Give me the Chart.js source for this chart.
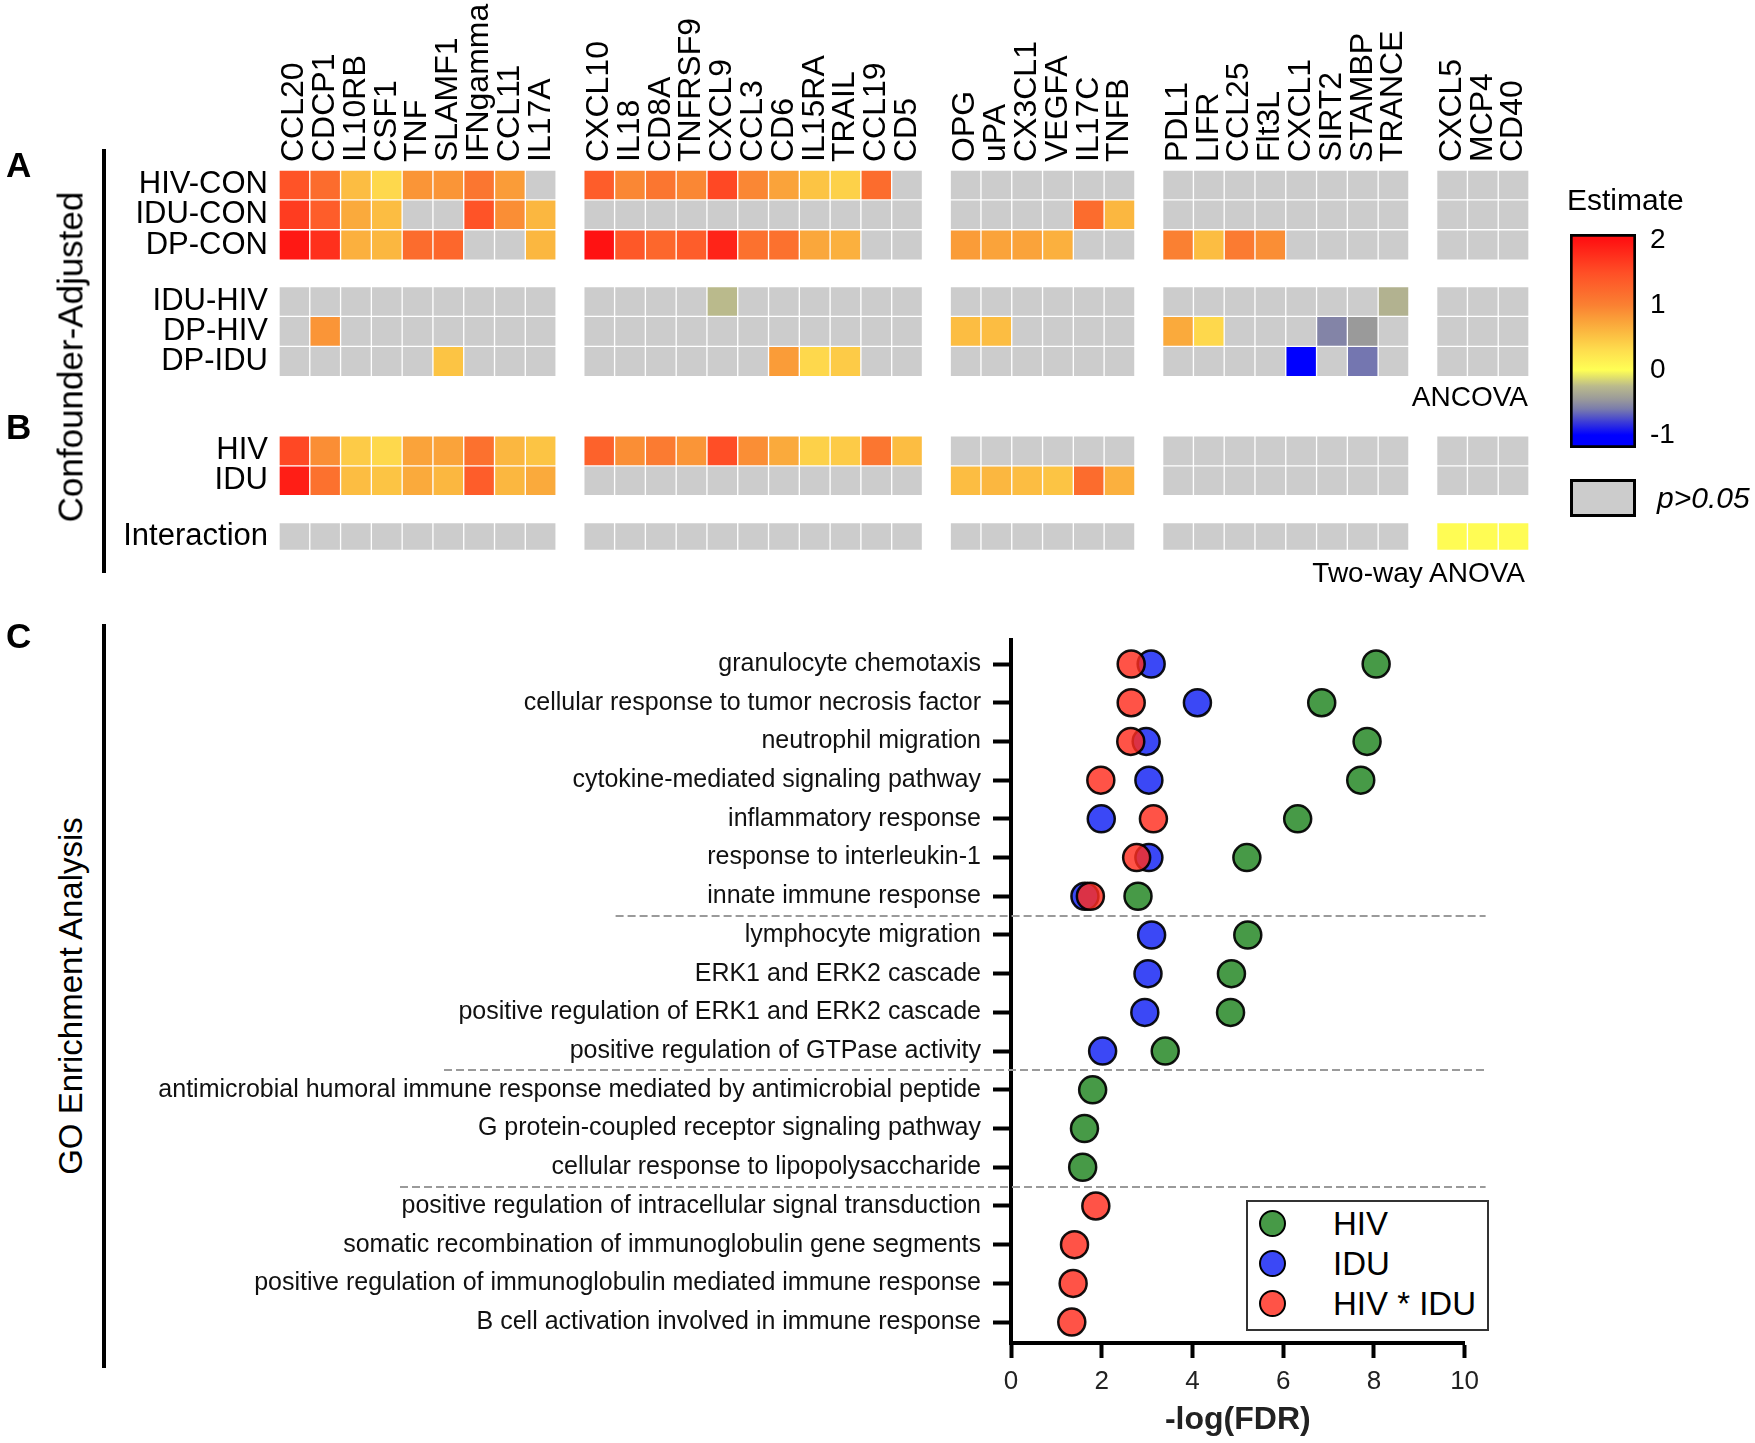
<!DOCTYPE html>
<html><head><meta charset="utf-8">
<script src="https://cdn.jsdelivr.net/npm/chart.js@4.4.1/dist/chart.umd.min.js"></script>
<style>
html,body{margin:0;padding:0;background:#fff;}
body{width:1755px;height:1443px;position:relative;overflow:hidden;font-family:"Liberation Sans",Arial,sans-serif;color:#000;}
.t{position:absolute;white-space:nowrap;line-height:1;}
canvas{position:absolute;}
.vline{position:absolute;background:#000;width:4px;}
.rot{position:absolute;white-space:nowrap;line-height:1;transform:translate(-50%,-50%) rotate(-90deg);}
</style></head><body>
<canvas id="heat" width="1560" height="580" style="left:0;top:0"></canvas>
<canvas id="cbar" width="200" height="280" style="left:1540px;top:200px"></canvas>
<canvas id="dots" width="1455" height="843" style="left:100px;top:600px"></canvas>

<div class="t" style="left:6px;top:147px;font-size:35px;font-weight:bold">A</div>
<div class="t" style="left:6px;top:409px;font-size:35px;font-weight:bold">B</div>
<div class="t" style="left:6px;top:618px;font-size:35px;font-weight:bold">C</div>
<div class="vline" style="left:102px;top:149px;height:424px"></div>
<div class="vline" style="left:102px;top:624px;height:744px"></div>
<div class="rot" style="left:70px;top:357px;font-size:35px">Confounder-Adjusted</div>
<div class="rot" style="left:70px;top:996px;font-size:33px">GO Enrichment Analysis</div>
<div class="t" style="left:1567px;top:185px;font-size:30px">Estimate</div>
<div class="t" style="right:227px;top:383px;font-size:28px">ANCOVA</div>
<div class="t" style="right:230px;top:559px;font-size:28px">Two-way ANOVA</div>
<div style="position:absolute;left:1570px;top:479px;width:66px;height:38px;box-sizing:border-box;border:3px solid #000;background:#cccccc"></div>
<div class="t" style="left:1657px;top:483px;font-size:30px;font-style:italic">p&gt;0.05</div>
<div id="goLegend" style="position:absolute;left:1246px;top:1200px;width:243px;height:131px;box-sizing:border-box;border:2px solid #333;background:#fff"></div>

<script>
// ---------------- DATA ----------------
const N = null;
const genesG1 = ['CCL20','CDCP1','IL10RB','CSF1','TNF','SLAMF1','IFNgamma','CCL11','IL17A'];
const genesG2 = ['CXCL10','IL18','CD8A','TNFRSF9','CXCL9','CCL3','CD6','IL15RA','TRAIL','CCL19','CD5'];
const genesG3 = ['OPG','uPA','CX3CL1','VEGFA','IL17C','TNFB'];
const genesG4 = ['PDL1','LIFR','CCL25','Flt3L','CXCL1','SIRT2','STAMBP','TRANCE'];
const genesG5 = ['CXCL5','MCP4','CD40'];

const rowLabels = ['HIV-CON','IDU-CON','DP-CON','IDU-HIV','DP-HIV','DP-IDU','HIV','IDU','Interaction'];

// Estimates (null = p>0.05), column order G1 | G2 | G3 | G4 | G5
const estHivCon = [1.45,1.2,0.55,0.35,0.85,0.85,1.1,0.8,N,  1.35,0.95,1.1,0.95,1.55,0.95,0.75,0.5,0.4,1.2,N,  N,N,N,N,N,N,  N,N,N,N,N,N,N,N,  N,N,N];
const estIduCon = [1.65,1.35,0.7,0.55,N,N,1.45,0.9,0.6,  N,N,N,N,N,N,N,N,N,N,N,  N,N,N,N,1.2,0.6,  N,N,N,N,N,N,N,N,  N,N,N];
const estDpCon  = [1.95,1.75,0.65,0.6,1.2,1.25,N,N,0.6,  2.0,1.4,1.25,1.35,1.85,1.15,1.15,0.72,0.65,N,N,  0.8,0.75,0.75,0.65,N,N,  1.0,0.55,1.05,0.9,N,N,N,N,  N,N,N];
const estIduHiv = [N,N,N,N,N,N,N,N,N,  N,N,N,N,-0.25,N,N,N,N,N,N,  N,N,N,N,N,N,  N,N,N,N,N,N,N,-0.3,  N,N,N];
const estDpHiv  = [N,0.85,N,N,N,N,N,N,N,  N,N,N,N,N,N,N,N,N,N,N,  0.55,0.55,N,N,N,N,  0.7,0.35,N,N,N,-0.56,-0.45,N,  N,N,N];
const estDpIdu  = [N,N,N,N,N,0.5,N,N,N,  N,N,N,N,N,N,0.8,0.35,0.45,N,N,  N,N,N,N,N,N,  N,N,N,N,-1.0,N,-0.62,N,  N,N,N];
const estHiv    = [1.55,0.9,0.45,0.35,0.75,0.75,1.15,0.6,0.5,  1.3,0.9,1.05,0.85,1.5,0.9,0.7,0.4,0.45,1.1,0.55,  N,N,N,N,N,N,  N,N,N,N,N,N,N,N,  N,N,N];
const estIdu    = [1.9,1.15,0.55,0.5,0.7,0.6,1.35,0.6,0.7,  N,N,N,N,N,N,N,N,N,N,N,  0.55,0.6,0.55,0.5,1.2,0.65,  N,N,N,N,N,N,N,N,  N,N,N];
const estInter  = [N,N,N,N,N,N,N,N,N,  N,N,N,N,N,N,N,N,N,N,N,  N,N,N,N,N,N,  N,N,N,N,N,N,N,N,  0.03,0.03,0.03];

const colorbarTicks = [-1, 0, 1, 2];

const goTerms = [
 'granulocyte chemotaxis',
 'cellular response to tumor necrosis factor',
 'neutrophil migration',
 'cytokine-mediated signaling pathway',
 'inflammatory response',
 'response to interleukin-1',
 'innate immune response',
 'lymphocyte migration',
 'ERK1 and ERK2 cascade',
 'positive regulation of ERK1 and ERK2 cascade',
 'positive regulation of GTPase activity',
 'antimicrobial humoral immune response mediated by antimicrobial peptide',
 'G protein-coupled receptor signaling pathway',
 'cellular response to lipopolysaccharide',
 'positive regulation of intracellular signal transduction',
 'somatic recombination of immunoglobulin gene segments',
 'positive regulation of immunoglobulin mediated immune response',
 'B cell activation involved in immune response'
];
const goHIV   = [8.05,6.85,7.85,7.71,6.32,5.2,2.8,5.22,4.86,4.84,3.4,1.8,1.62,1.58,N,N,N,N];
const goIDU   = [3.09,4.11,2.98,3.04,1.99,3.04,1.63,3.1,3.02,2.95,2.02,N,N,N,N,N,N,N];
const goInter = [2.65,2.65,2.64,1.98,3.14,2.77,1.75,N,N,N,N,N,N,N,1.87,1.4,1.37,1.34];
const goSeriesNames = ['HIV','IDU','HIV * IDU'];
const goGroupEnds = [6, 10, 13];
const goXTicks = [0,2,4,6,8,10];

// ---------------- LAYOUT / STYLE ----------------
const FONT = "'Liberation Sans', Arial, sans-serif";
Chart.defaults.font.family = FONT;
Chart.defaults.color = '#000';
const LAYOUT = {
  groupGap: 0.9,
  rowBands: [[0,1],[1,2],[2,3.02],[3.9,4.9],[4.9,5.9],[5.9,6.92],[8.9,9.9],[9.9,10.9],[11.8,12.73]],
  yMax: 12.73,
  colLabelFont: 32,
  sepX0: [515.6, 344, 300],
  sepRightExtra: 21
};
const NA_COLOR = '#cccccc';
const colorStops = [
 [-1.0,[0,0,255]], [-0.8,[60,60,215]], [-0.6,[122,124,172]], [-0.45,[154,154,154]],
 [-0.25,[186,186,140]], [-0.1,[228,228,105]], [0.0,[255,255,85]], [0.3,[254,222,78]],
 [0.5,[252,196,68]], [0.75,[250,163,58]], [1.0,[250,128,50]], [1.5,[255,78,38]], [2.0,[255,18,18]]
];
function colorOf(v){
  if (v === null || v === undefined) return NA_COLOR;
  if (v <= colorStops[0][0]) return 'rgb(' + colorStops[0][1].join(',') + ')';
  for (let i = 1; i < colorStops.length; i++) {
    if (v <= colorStops[i][0]) {
      const [a, ca] = colorStops[i-1], [b, cb] = colorStops[i];
      const t = (v - a) / (b - a);
      const c = ca.map((x, k) => Math.round(x + (cb[k] - x) * t));
      return 'rgb(' + c.join(',') + ')';
    }
  }
  return 'rgb(' + colorStops[colorStops.length-1][1].join(',') + ')';
}

// ---------------- HEATMAP (A + B) ----------------
const geneGroups = [genesG1, genesG2, genesG3, genesG4, genesG5];
const genes = geneGroups.flat();
const colPos = [];
{
  let p = 0;
  geneGroups.forEach((g, gi) => {
    if (gi > 0) p += LAYOUT.groupGap;
    g.forEach(() => { colPos.push(p); p += 1; });
  });
}
const xMax = colPos[colPos.length - 1] + 1;
const rowValues = [estHivCon, estIduCon, estDpCon, estIduHiv, estDpHiv, estDpIdu, estHiv, estIdu, estInter];

new Chart(document.getElementById('heat'), {
  type: 'bar',
  data: {
    datasets: rowValues.map((vals, ri) => ({
      label: rowLabels[ri],
      data: vals.map((v, ci) => ({ x: colPos[ci] + 0.5, y: LAYOUT.rowBands[ri], v })),
      backgroundColor: (ctx) => colorOf(ctx.raw ? ctx.raw.v : null),
      borderColor: '#ffffff', borderWidth: 1, borderSkipped: false,
      grouped: false, barPercentage: 1, categoryPercentage: 1
    }))
  },
  options: {
    responsive: false, animation: false, events: [], devicePixelRatio: 1,
    layout: { padding: { left: 0, right: 31, top: 0, bottom: 25.4 } },
    plugins: { legend: { display: false }, tooltip: { enabled: false } },
    scales: {
      x: {
        type: 'linear', position: 'top', min: 0, max: xMax, offset: false,
        afterFit: (s) => { s.height = 170; },
        afterBuildTicks: (s) => { s.ticks = colPos.map(p => ({ value: p + 0.5 })); },
        ticks: { autoSkip: false, minRotation: 90, maxRotation: 90, padding: 8,
                 labelOffset: LAYOUT.colLabelFont * 1.2,
                 font: { size: LAYOUT.colLabelFont }, color: '#000', callback: (v, i) => genes[i] },
        grid: { display: false, drawTicks: false }, border: { display: false }
      },
      y: {
        type: 'linear', reverse: true, min: 0, max: LAYOUT.yMax,
        afterFit: (s) => { s.width = 279; },
        afterBuildTicks: (s) => { s.ticks = LAYOUT.rowBands.map(b => ({ value: (b[0] + b[1]) / 2 })); },
        ticks: { autoSkip: false, padding: 11, font: { size: 31 }, color: '#000', callback: (v, i) => rowLabels[i] },
        grid: { display: false, drawTicks: false }, border: { display: false }
      }
    }
  }
});

// ---------------- COLORBAR ----------------
const cbMin = -1.2, cbMax = 2.092;
new Chart(document.getElementById('cbar'), {
  type: 'bar',
  data: { labels: [''], datasets: [{
    data: [[cbMin, cbMax]],
    backgroundColor: (ctx) => {
      const chart = ctx.chart; const ys = chart.scales.y;
      if (!ys || !chart.chartArea) return NA_COLOR;
      const y0 = ys.getPixelForValue(cbMin), y1 = ys.getPixelForValue(cbMax);
      const g = chart.ctx.createLinearGradient(0, y0, 0, y1);
      colorStops.forEach(([v]) => {
        const o = (v - cbMin) / (cbMax - cbMin);
        if (o >= 0 && o <= 1) g.addColorStop(o, colorOf(v));
      });
      g.addColorStop(0, colorOf(cbMin)); g.addColorStop(1, colorOf(cbMax));
      return g;
    },
    borderColor: '#000', borderWidth: 3, borderSkipped: false, barPercentage: 1, categoryPercentage: 1
  }]},
  options: {
    responsive: false, animation: false, events: [], devicePixelRatio: 1,
    layout: { padding: { left: 30, top: 34, bottom: 32, right: 0 } },
    plugins: { legend: { display: false }, tooltip: { enabled: false } },
    scales: {
      x: { display: false },
      y: { position: 'right', min: cbMin, max: cbMax,
           afterFit: (s) => { s.width = 104; },
           afterBuildTicks: (s) => { s.ticks = colorbarTicks.map(v => ({ value: v })); },
           ticks: { padding: 14, font: { size: 28 }, color: '#000' },
           grid: { display: false, drawTicks: false }, border: { display: false } }
    }
  }
});

// ---------------- GO DOT PLOT ----------------
const goColors = ['rgba(45,140,45,0.88)', 'rgba(25,40,245,0.85)', 'rgba(255,45,30,0.82)'];
const goSeries = [goHIV, goIDU, goInter];
const sepPlugin = {
  id: 'seps',
  beforeDatasetsDraw(chart) {
    const { ctx, scales: { y }, chartArea } = chart;
    ctx.save();
    ctx.strokeStyle = '#9a9a9a'; ctx.lineWidth = 2; ctx.setLineDash([8, 4]);
    goGroupEnds.forEach((after, k) => {
      const py = Math.round(y.getPixelForValue(after + 0.5));
      ctx.beginPath(); ctx.moveTo(LAYOUT.sepX0[k], py);
      ctx.lineTo(chartArea.right + LAYOUT.sepRightExtra, py); ctx.stroke();
    });
    ctx.restore();
  }
};
new Chart(document.getElementById('dots'), {
  type: 'scatter',
  data: { datasets: goSeries.map((arr, si) => ({
    label: goSeriesNames[si],
    data: arr.map((v, i) => v === null ? null : { x: v, y: i }).filter(p => p),
    backgroundColor: goColors[si], borderColor: 'rgba(0,0,0,0.92)', borderWidth: 2.5,
    pointRadius: 13.5, pointHoverRadius: 13.5, order: 2 - si, clip: false
  })) },
  options: {
    responsive: false, animation: false, events: [], devicePixelRatio: 1,
    layout: { padding: { left: 0, right: 90.4, top: 40, bottom: 0 } },
    plugins: { legend: { display: false }, tooltip: { enabled: false } },
    scales: {
      x: { type: 'linear', min: 0, max: 10,
           afterFit: (s) => { s.height = 100; },
           afterBuildTicks: (s) => { s.ticks = goXTicks.map(v => ({ value: v })); },
           ticks: { padding: 8, font: { size: 26 }, color: '#222' },
           grid: { drawOnChartArea: false, drawTicks: true, tickLength: 15, tickWidth: 4, tickColor: '#000' },
           border: { display: true, color: '#000', width: 4 },
           title: { display: true, text: '-log(FDR)', font: { size: 32, weight: 'bold' }, color: '#222', padding: { top: 4, bottom: 4 } } },
      y: { type: 'linear', reverse: true, min: -0.62, max: 17.54,
           afterFit: (s) => { s.width = 911; },
           afterBuildTicks: (s) => { s.ticks = goTerms.map((t, i) => ({ value: i })); },
           ticks: { autoSkip: false, padding: 12, font: { size: 25 }, color: '#111', callback: (v, i) => goTerms[i] },
           grid: { drawOnChartArea: false, drawTicks: true, tickLength: 18, tickWidth: 4, tickColor: '#000' },
           border: { display: true, color: '#000', width: 4 } }
    }
  },
  plugins: [sepPlugin]
});

// HTML legend for the dot plot, built from the series
{
  const legendItemY = [1223, 1263, 1303];
  goSeriesNames.forEach((name, i) => {
    const c = document.createElement('div');
    c.style.cssText = `position:absolute;left:1259px;top:${legendItemY[i]-13.5}px;width:27px;height:27px;border-radius:50%;box-sizing:border-box;border:2.5px solid #000;background:${goColors[i]}`;
    document.body.appendChild(c);
    const t = document.createElement('div');
    t.className = 't';
    t.style.cssText = `left:1333px;top:${legendItemY[i] - 0.489*33}px;font-size:33px`;
    t.textContent = name;
    document.body.appendChild(t);
  });
}
</script>
</body></html>
